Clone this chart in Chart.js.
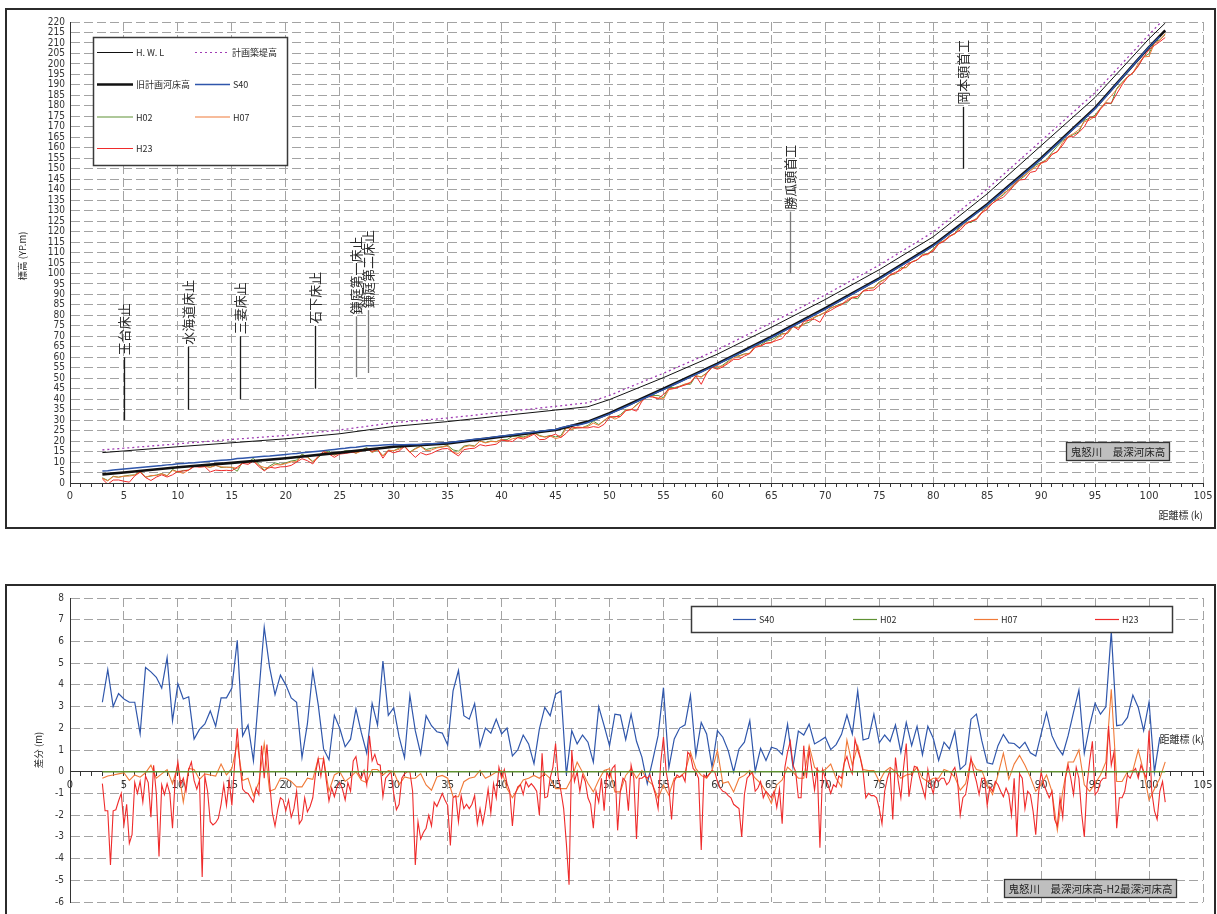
<!DOCTYPE html>
<html lang="ja">
<head>
<meta charset="utf-8">
<title>鬼怒川 最深河床高</title>
<script src="https://cdn.jsdelivr.net/npm/chart.js@4.4.1/dist/chart.umd.min.js"></script>
<style>
  html, body { margin: 0; padding: 0; background: #fff; }
  body { width: 1217px; height: 914px; position: relative; overflow: hidden; }
  .frame { position: absolute; border: 2px solid #2b2b2b; box-sizing: border-box; }
  #frameTop { left: 5px; top: 8px; width: 1211px; height: 521px; }
  #frameBottom { left: 5px; top: 584px; width: 1211px; height: 345px; }
  canvas { position: absolute; left: 0; }
  #profile { top: 0; }
  #difference { top: 585px; }
</style>
</head>
<body>
<div class="frame" id="frameTop"></div>
<div class="frame" id="frameBottom"></div>
<canvas id="profile" width="1217" height="530"></canvas>
<canvas id="difference" width="1217" height="329"></canvas>
<script>
// ---- distance grid (k) ----
const KM_FIRST = 3.0;                       // first surveyed section
const distTicks = [0,5,10,15,20,25,30,35,40,45,50,55,60,65,70,75,80,85,90,95,100,105];

// ---- plan lines (break points) ----
const planKm   = [3,5,10,15,20,25,30,35,40,45,48,50,55,60,65,70,75,80,85,90,95,100,101.5];
const hwl      = [14.5,15.3,17.3,19.2,21.1,23.5,27.0,29.3,32.1,34.8,36.4,39.8,50.3,61.5,74.3,87.6,101.8,117.5,138,161,184,212,219.5];
const levee    = [15.8,16.6,18.7,20.8,22.7,25.3,28.8,31.0,33.8,36.6,38.3,41.8,52.4,63.6,76.5,89.8,104.0,119.8,140.3,163.3,186.3,214,222];
const oldPlan  = [4.1,5.0,7.5,9.6,11.8,14.5,17.3,18.9,22.1,25.3,29.3,33.3,45.0,57.0,69.8,83.4,97.7,113.5,133,155,179,208,216];

// ---- H02 deepest bed elevation, every 0.5 k from 3.0 k ----
const h02Bed = [
  2.5,1.2,3.2,2.8,3.3,3.7,3.9,5.6,2.8,3.3,
  3.8,4.5,3.4,6.5,5.1,6.0,6.1,8.2,8.0,8.0,
  7.6,8.5,7.4,7.6,7.4,5.6,10.2,9.9,11.8,8.9,
  6.1,8.1,9.6,8.9,9.6,10.5,10.9,13.8,12.5,10.3,
  12.1,14.4,15.2,13.4,14.3,15.4,15.4,14.2,15.6,16.9,
  14.6,15.8,13.0,15.6,15.4,16.7,
  17.6,14.8,16.5,17.6,16.0,16.6,17.0,17.3,18.0,15.8,
  15.2,17.6,18.1,17.7,20.0,19.4,20.0,19.7,20.7,20.7,
  22.3,22.4,22.0,22.7,24.0,22.7,22.0,22.7,22.0,22.6,
  27.1,25.7,26.3,26.5,27.5,29.5,27.9,29.8,31.7,31.4,
  32.6,34.9,34.9,37.4,39.3,41.6,41.7,41.8,40.7,45.6,
  45.5,46.2,47.2,47.1,51.1,50.7,52.5,55.2,54.7,56.3,
  58.2,60.5,60.7,61.6,61.9,65.6,65.8,67.6,68.3,69.7,
  71.3,71.3,74.6,74.3,
  75.9,76.7,79.0,80.2,81.4,83.4,84.6,85.6,86.1,88.4,
  87.9,91.6,92.9,93.2,96.0,97.2,99.1,99.9,102.7,102.9,
  105.6,106.3,109.2,109.4,111.6,114.5,115.6,117.9,119.0,122.7,
  124.5,124.3,126.1,129.2,132.2,134.5,135.8,137.5,140.1,142.3,
  144.7,146.6,149.3,151.7,152.9,154.3,157.7,160.7,163.4,164.9,
  166.3,167.6,173.0,174.1,175.5,178.9,181.5,181.0,188.3,191.2,
  193.8,195.7,199.2,203.3,204.9,210.6,211.5,214.0
];

// ---- differences from H02 (m) ----
// S40 and H07: every 0.5 k from 3.0 k
const s40Diff = [
  3.2,4.7,3.0,3.6,3.35,3.2,3.2,1.75,4.8,4.6,
  4.35,3.85,5.25,2.35,4.05,3.35,3.45,1.5,1.95,2.2,
  2.8,2.1,3.4,3.4,3.85,6.05,1.65,2.15,0.5,3.6,
  6.65,4.8,3.55,4.45,4.0,3.4,3.2,0.65,2.2,4.65,
  3.1,1.05,0.55,2.6,2.0,1.15,1.5,2.9,1.8,0.85,
  3.15,2.15,5.1,2.6,2.95,1.6,
  0.64,3.52,1.89,0.82,2.58,2.12,1.84,1.78,1.23,3.72,
  4.66,2.58,2.42,3.14,1.17,2.01,1.77,2.42,1.74,2.01,
  0.73,1.01,1.69,1.28,0.37,1.97,2.96,2.58,3.57,3.72,
  -0.14,1.89,1.28,1.69,1.36,0.44,2.99,2.12,1.20,2.65,
  2.61,1.48,2.65,1.40,0.67,-0.55,0.52,1.66,3.87,0.18,
  1.51,2.01,2.16,3.52,0.75,2.27,1.74,0.21,1.89,1.59,
  0.97,-0.01,1.05,1.36,2.35,0.01,1.08,0.52,1.13,1.05,
  0.79,2.19,0.21,1.87,
  1.69,2.19,1.28,1.43,1.59,1.02,1.25,1.72,2.61,1.74,
  3.72,1.46,1.54,2.65,1.33,1.69,1.39,2.16,0.90,2.27,
  1.20,2.09,0.78,2.09,1.54,0.52,1.36,1.05,1.86,0.11,
  0.34,2.42,2.65,1.43,0.41,0.35,1.20,1.72,1.33,1.30,
  1.08,1.36,0.87,0.72,1.74,2.73,1.66,1.13,0.78,1.66,
  2.73,3.76,0.85,2.12,3.15,2.65,2.99,6.46,2.12,2.16,
  2.50,3.53,2.96,1.89,3.21,-0.01,1.59,null
];
const h07Diff = [
  -0.3,-0.2,-0.15,-0.1,-0.05,-0.4,-0.15,-0.25,-0.05,0.3,
  -0.3,-0.1,0.1,-0.55,0.3,-1.4,0.15,0.1,-0.35,-0.1,
  -0.15,-0.2,0.35,-0.15,0.15,1.3,-0.4,-0.3,-1.1,-0.5,
  1.3,-0.9,-0.8,-0.3,-0.3,-0.45,-0.7,-0.7,-0.3,-0.35,
  0.6,0.6,-0.9,-0.15,0.0,-0.45,-0.25,0.0,-0.4,-0.5,
  0.1,0.1,-0.15,0.05,0.0,-0.6,
  -0.24,-0.3,-0.3,-0.09,-0.61,-0.85,-0.24,-0.17,-0.3,-1.15,
  -1.15,-0.46,-0.3,-0.24,0.06,-0.3,-0.17,-0.02,0.06,-0.78,
  -1.2,-0.78,-0.38,-0.3,-0.17,-0.3,-0.09,-0.3,-0.78,-0.78,
  -0.78,-0.3,0.44,-0.02,-0.53,-0.93,-0.38,0.06,0.14,-0.93,
  -0.93,-0.17,0.14,-0.3,0.06,-0.38,-0.61,-1.23,-0.61,-1.08,
  -0.3,-0.24,-0.02,0.9,0.14,-0.17,-0.3,0.06,0.98,-0.53,
  -0.46,-0.93,-0.3,-0.17,0.06,-0.3,-0.53,-0.93,-1.46,-0.61,
  -0.38,0.21,-0.02,-0.3,
  -0.3,1.2,0.2,0.0,0.1,0.35,-0.3,-0.7,1.45,0.3,
  1.2,0.1,0.05,0.05,-0.45,0.0,0.2,0.0,-0.3,-0.15,
  -0.1,0.2,-0.3,-0.45,-0.3,-0.3,0.1,0.0,-0.25,-0.85,
  -0.55,0.55,0.1,0.05,-0.6,-1.05,-0.15,0.85,-0.35,0.35,
  0.75,0.3,-0.25,-0.9,-0.6,-0.15,-0.9,-2.7,-0.9,0.45,
  0.45,1.0,-0.6,-0.9,-0.55,-0.15,0.45,3.8,-0.45,-0.45,
  0.0,0.05,1.0,0.0,-1.3,-0.8,-0.3,0.45
];
// H23: every 0.25 k from 3.0 k
const h23Diff = [
  -0.55,-1.8,-1.8,-4.3,-1.8,-1.75,-1.35,-1.0,-2.45,-1.5,
  -3.3,-2.9,-0.5,-1.0,-0.45,-1.4,-0.2,-0.5,-2.1,0.3,
  -1.0,-3.9,-0.6,-1.05,-0.55,-1.0,-2.6,-0.3,0.45,-0.6,
  -0.3,-0.9,0.1,0.45,-0.4,-0.8,-0.4,-4.85,-0.2,-0.9,
  -2.3,-2.45,-2.35,-2.15,-1.5,-0.6,-1.55,-0.4,-1.55,0.3,
  2.0,0.3,-0.8,-0.95,-1.0,-1.2,-1.4,-0.75,-1.05,1.2,
  -0.3,1.25,-0.5,-1.9,-2.5,-1.75,-1.2,-1.3,-1.8,-1.3,
  -2.1,-1.7,-0.9,-2.4,-2.2,-1.2,-1.85,-1.6,-1.2,-0.1,
  0.6,-0.2,0.6,-0.4,-1.35,-0.75,-1.15,-0.7,-0.5,-0.8,
  -1.3,-0.5,-0.9,0.5,0.7,-0.1,-0.3,0.05,-0.6,1.65,
  0.5,0.8,0.35,0.3,-1.15,-0.3,-0.15,0.0,-1.0,-1.75,
  -1.5,
  -0.3,-0.1,0.0,0.0,-0.9,-4.3,-2.3,-3.1,-2.8,-2.6,
  -2.0,-2.5,-1.4,-1.6,-1.3,-1.0,-1.3,-1.55,-3.4,-1.2,
  -1.1,-2.3,-1.1,-1.7,-1.5,-1.7,-1.5,-1.1,-2.4,-1.7,
  -2.4,-1.7,-0.8,-1.9,-0.55,-1.2,0.2,-0.3,0.1,-0.55,
  -0.9,-2.5,-1.05,-0.7,-0.6,-1.05,-0.45,-0.7,-0.55,-0.7,
  -0.9,-2.0,0.85,-1.2,-1.15,-0.3,0.2,1.3,-0.3,-0.9,
  -1.7,-3.3,-5.2,1.0,-0.45,0.0,-0.9,-0.15,-0.45,-1.2,
  -1.5,-2.6,-0.9,-1.4,-0.3,-1.8,0.0,-0.3,0.15,0.3,
  -2.7,-0.9,-0.3,-0.45,-1.8,0.3,-0.3,-3.1,-0.3,-0.3,
  -0.2,-0.3,-0.15,-0.6,-1.05,-1.7,0.45,1.6,0.0,-0.75,
  -2.2,-0.45,-0.15,-0.25,-0.15,-0.45,0.9,0.75,0.15,0.0,
  -0.3,-3.6,-0.15,-0.25,-0.1,0.05,0.0,-0.45,-0.75,-0.9,
  -0.95,-1.1,-1.2,-1.5,-1.6,-1.7,-3.0,-1.05,-0.3,-0.15,
  0.0,-0.9,-0.75,-0.45,-1.2,-0.9,-1.05,-1.2,-0.9,-1.65,
  -0.8,-2.4,0.2,0.9,1.4,0.3,0.0,-1.2,
  -1.2,1.2,-0.3,1.0,0.1,-0.85,0.2,-3.5,0.1,-0.3,
  -0.6,-1.0,-0.6,-0.7,-0.2,-0.3,0.4,0.7,0.2,-0.1,
  1.5,1.0,0.6,0.0,-1.2,-1.0,-1.1,-1.1,-1.2,-1.7,
  -2.4,-0.9,-0.3,0.1,-2.2,0.65,-0.4,-1.2,0.2,1.3,
  -1.15,-0.3,0.25,0.2,-0.3,-0.75,-1.2,0.1,-0.6,-1.0,
  -0.3,-0.45,-0.3,-0.3,-0.6,-0.45,0.0,0.2,-0.4,-2.0,
  -1.2,-1.05,-0.3,0.65,0.0,-0.45,-1.05,-0.3,-0.3,-1.55,
  -0.7,-0.9,-0.45,-0.6,-0.9,-1.15,-0.75,-1.05,-2.0,-0.3,
  -3.0,-0.1,-0.3,-1.7,-0.9,-1.05,-1.8,-2.9,-1.05,0.0,
  -0.6,-0.9,-1.2,-0.9,-2.2,-2.5,-1.2,-2.1,-0.3,0.3,
  -0.3,-1.05,0.2,-0.3,-1.9,-3.0,-0.6,0.5,1.4,-1.05,
  -0.9,-0.45,-0.3,-0.3,2.1,0.3,0.9,-2.6,-1.2,-1.2,
  -0.9,-0.15,-0.3,0.0,0.15,-0.3,0.3,0.0,-0.3,1.9,
  -0.9,-1.8,-2.2,-0.9,-0.45,-1.4
];

// ---- structures marked on the profile ----
const structureNames = ['王台床止','水海道床止','三妻床止','石下床止','鎌庭第一床止','鎌庭第二床止','勝瓜頭首工','岡本頭首工'];
const structureKm    = [5.0, 10.9, 15.75, 22.7, 26.5, 27.6, 66.7, 82.8];
const structureFoot  = [30, 35, 40, 45, 50.5, 52.5, 100, 150];
const structureHead  = [60, 65, 70, 75, 79.5, 82.5, 129.5, 179.5];

// ---- derived series ----
const kmHalf    = h02Bed.map((_, i) => KM_FIRST + i * 0.5);
const kmQuarter = h23Diff.map((_, i) => KM_FIRST + i * 0.25);
const pairs = (xs, ys) => xs.map((x, i) => ({ x, y: ys[i] }));
const round2 = v => Math.round(v * 100) / 100;

const s40Bed = h02Bed.map((v, i) => s40Diff[i] == null ? null : round2(v + s40Diff[i]));
const h07Bed = h02Bed.map((v, i) => round2(v + h07Diff[i]));
const h23Bed = h02Bed.map((v, i) => round2(v + h23Diff[i * 2]));   // sections on the 0.5 k grid
const h02Zero = h02Bed.map(() => 0);

// ---- styling ----
const C = {
  hwl: '#111111', levee: '#a03cb4', oldPlan: '#111111',
  s40: '#2f56ab', h02: '#5f9234', h07: '#f07a38', h23: '#ef2b2b',
  grid: '#a3a3a3', axis: '#333333', text: '#2a2a2a'
};
const NUM_FONT = "'Liberation Sans Narrow','Arial Narrow','DejaVu Sans Condensed',sans-serif";
const JP_FONT = "'Noto Sans CJK JP','Noto Sans CJK SC',sans-serif";
Chart.defaults.font.family = NUM_FONT;
Chart.defaults.color = C.text;

const minorKm = [];
for (let k = 0; k <= 105; k++) minorKm.push(k);

function xScale(extra) {
  return Object.assign({
    type: 'linear', min: 0, max: 105,
    afterBuildTicks(s) { s.ticks = minorKm.map(v => ({ value: v })); },
    ticks: {
      autoSkip: false, maxRotation: 0, padding: 3,
      font: { size: 11 }, color: '#333',
      callback: v => distTicks.includes(v) ? String(v) : ''
    },
    grid: {
      color: c => (c.tick && distTicks.includes(c.tick.value)) ? C.grid : 'rgba(0,0,0,0)',
      lineWidth: 1, tickColor: C.axis, tickLength: 4, tickWidth: 1
    },
    border: { color: C.axis, width: 1, dash: [9, 4] }
  }, extra);
}

function line(label, data, color, width, order, extra) {
  return Object.assign({
    label, data, borderColor: color, backgroundColor: color,
    borderWidth: width, pointRadius: 0, tension: 0, fill: false, order, spanGaps: false
  }, extra || {});
}

function drawLegendItem(ctx, x1, x2, y, color, width, dash, text) {
  ctx.save();
  ctx.strokeStyle = color; ctx.lineWidth = width; ctx.setLineDash(dash || []);
  ctx.beginPath(); ctx.moveTo(x1, y); ctx.lineTo(x2, y); ctx.stroke();
  ctx.restore();
  ctx.fillStyle = C.text; ctx.font = '9px ' + JP_FONT;
  ctx.textAlign = 'left'; ctx.textBaseline = 'middle';
  ctx.fillText(text, x2 + 3, y + 0.5);
}

function drawTag(ctx, x, y, w, h, text) {
  ctx.fillStyle = '#bfbfbf'; ctx.fillRect(x, y, w, h);
  ctx.strokeStyle = '#333'; ctx.lineWidth = 1.3; ctx.strokeRect(x, y, w, h);
  ctx.fillStyle = '#1e1e1e'; ctx.font = '10.5px ' + JP_FONT;
  ctx.textAlign = 'center'; ctx.textBaseline = 'middle';
  ctx.fillText(text, x + w / 2, y + h / 2 + 0.5);
}

function vText(ctx, text, x, y, size, align) {
  ctx.save(); ctx.translate(x, y); ctx.rotate(-Math.PI / 2);
  ctx.font = size + 'px ' + JP_FONT; ctx.fillStyle = C.text;
  ctx.textAlign = align; ctx.textBaseline = 'middle';
  ctx.fillText(text, 0, 0);
  ctx.restore();
}

// ---- longitudinal profile ----
const profileDecor = {
  id: 'profileDecor',
  afterDatasetsDraw(chart) {
    const { ctx, scales: { x, y } } = chart;
    ctx.save();
    structureNames.forEach((name, i) => {
      const px = Math.round(x.getPixelForValue(structureKm[i])) + 0.5;
      const yb = y.getPixelForValue(structureFoot[i]);
      const yt = y.getPixelForValue(structureHead[i]);
      ctx.strokeStyle = (i >= 4 && i <= 6) ? '#7a7a7a' : '#1a1a1a';
      ctx.lineWidth = 1.3;
      ctx.beginPath(); ctx.moveTo(px, yb); ctx.lineTo(px, yt); ctx.stroke();
      vText(ctx, name, px, yt - 2, 13, 'left');
    });
    // legend
    ctx.fillStyle = '#fff'; ctx.fillRect(93.5, 37.5, 194, 128);
    ctx.strokeStyle = '#3a3a3a'; ctx.lineWidth = 1.5; ctx.strokeRect(93.5, 37.5, 194, 128);
    drawLegendItem(ctx, 97, 133, 52.5, C.hwl, 1, null, 'H. W. L');
    drawLegendItem(ctx, 195, 229, 52.5, C.levee, 1.2, [2, 3], '計画築堤高');
    drawLegendItem(ctx, 97, 133, 84.5, C.oldPlan, 2.5, null, '旧計画河床高');
    drawLegendItem(ctx, 195, 230, 84.5, C.s40, 1.5, null, 'S40');
    drawLegendItem(ctx, 97, 133, 117, C.h02, 1.2, null, 'H02');
    drawLegendItem(ctx, 195, 230, 117, C.h07, 1.2, null, 'H07');
    drawLegendItem(ctx, 97, 133, 148.5, C.h23, 1.2, null, 'H23');
    drawTag(ctx, 1066.5, 442.5, 103, 18, '鬼怒川　最深河床高');
    // axis titles
    vText(ctx, '標高 (YP.m)', 22, 256, 9.5, 'center');
    ctx.fillStyle = C.text; ctx.font = '10px ' + JP_FONT;
    ctx.textAlign = 'right'; ctx.textBaseline = 'middle';
    ctx.fillText('距離標 (k)', 1203, 515);
    ctx.restore();
  }
};

const elevTicks = [];
for (let v = 0; v <= 220; v += 5) elevTicks.push(v);

new Chart(document.getElementById('profile'), {
  type: 'line',
  data: {
    datasets: [
      line('H.W.L', pairs(planKm, hwl), C.hwl, 1, 6),
      line('計画築堤高', pairs(planKm, levee), C.levee, 1.3, 7, { borderDash: [2, 3] }),
      line('旧計画河床高', pairs(planKm, oldPlan), C.oldPlan, 2.6, 2),
      line('S40', pairs(kmHalf, s40Bed), C.s40, 1.5, 1),
      line('H02', pairs(kmHalf, h02Bed), C.h02, 1, 5),
      line('H07', pairs(kmHalf, h07Bed), C.h07, 1, 4),
      line('H23', pairs(kmHalf, h23Bed), C.h23, 1, 3)
    ]
  },
  options: {
    responsive: false, animation: false, events: [],
    layout: { padding: { left: 0, right: 14, top: 22, bottom: 17 } },
    plugins: { legend: { display: false }, tooltip: { enabled: false } },
    scales: {
      x: xScale({ position: 'bottom', afterFit(s) { s.height = 30; } }),
      y: {
        type: 'linear', min: 0, max: 220,
        afterBuildTicks(s) { s.ticks = elevTicks.map(v => ({ value: v })); },
        ticks: { autoSkip: false, padding: 5, font: { size: 10 }, color: '#333' },
        grid: { color: C.grid, lineWidth: 1, drawTicks: false },
        border: { color: C.axis, width: 1, dash: [9, 4] },
        afterFit(s) { s.width = 70; }
      }
    }
  },
  plugins: [profileDecor]
});

// ---- difference from H02 ----
const diffDecor = {
  id: 'diffDecor',
  afterDatasetsDraw(chart) {
    const { ctx } = chart;
    ctx.save();
    ctx.fillStyle = '#fff'; ctx.fillRect(691.5, 21.5, 481, 26);
    ctx.strokeStyle = '#3a3a3a'; ctx.lineWidth = 1.5; ctx.strokeRect(691.5, 21.5, 481, 26);
    drawLegendItem(ctx, 733, 756, 34.5, C.s40, 1.2, null, 'S40');
    drawLegendItem(ctx, 853, 877, 34.5, C.h02, 1.2, null, 'H02');
    drawLegendItem(ctx, 974, 998, 34.5, C.h07, 1.2, null, 'H07');
    drawLegendItem(ctx, 1095, 1119, 34.5, C.h23, 1.2, null, 'H23');
    drawTag(ctx, 1004.5, 294.5, 172, 18, '鬼怒川　最深河床高-H2最深河床高');
    vText(ctx, '差分 (m)', 38, 165, 9.5, 'center');
    ctx.fillStyle = C.text; ctx.font = '10px ' + JP_FONT;
    ctx.textAlign = 'right'; ctx.textBaseline = 'middle';
    ctx.fillText('距離標 (k)', 1204, 154);
    ctx.restore();
  }
};

const diffTicks = [-6,-5,-4,-3,-2,-1,0,1,2,3,4,5,6,7,8];

new Chart(document.getElementById('difference'), {
  type: 'line',
  data: {
    datasets: [
      line('S40', pairs(kmHalf, s40Diff), C.s40, 1.2, 4),
      line('H02', pairs(kmHalf, h02Zero), C.h02, 1.5, 1),
      line('H07', pairs(kmHalf, h07Diff), C.h07, 1.1, 3),
      line('H23', pairs(kmQuarter, h23Diff), C.h23, 1.1, 2)
    ]
  },
  options: {
    responsive: false, animation: false, events: [],
    layout: { padding: { left: 0, right: 14, top: 13, bottom: 10 } },
    plugins: { legend: { display: false }, tooltip: { enabled: false } },
    scales: {
      x: xScale({ position: { y: 0 } }),
      y: {
        type: 'linear', min: -6, max: 8,
        afterBuildTicks(s) { s.ticks = diffTicks.map(v => ({ value: v })); },
        ticks: { autoSkip: false, padding: 6, font: { size: 10 }, color: '#333' },
        grid: { color: C.grid, lineWidth: 1, drawTicks: false },
        border: { color: C.axis, width: 1, dash: [9, 4] },
        afterFit(s) { s.width = 70; }
      }
    }
  },
  plugins: [diffDecor]
});
</script>
</body>
</html>
